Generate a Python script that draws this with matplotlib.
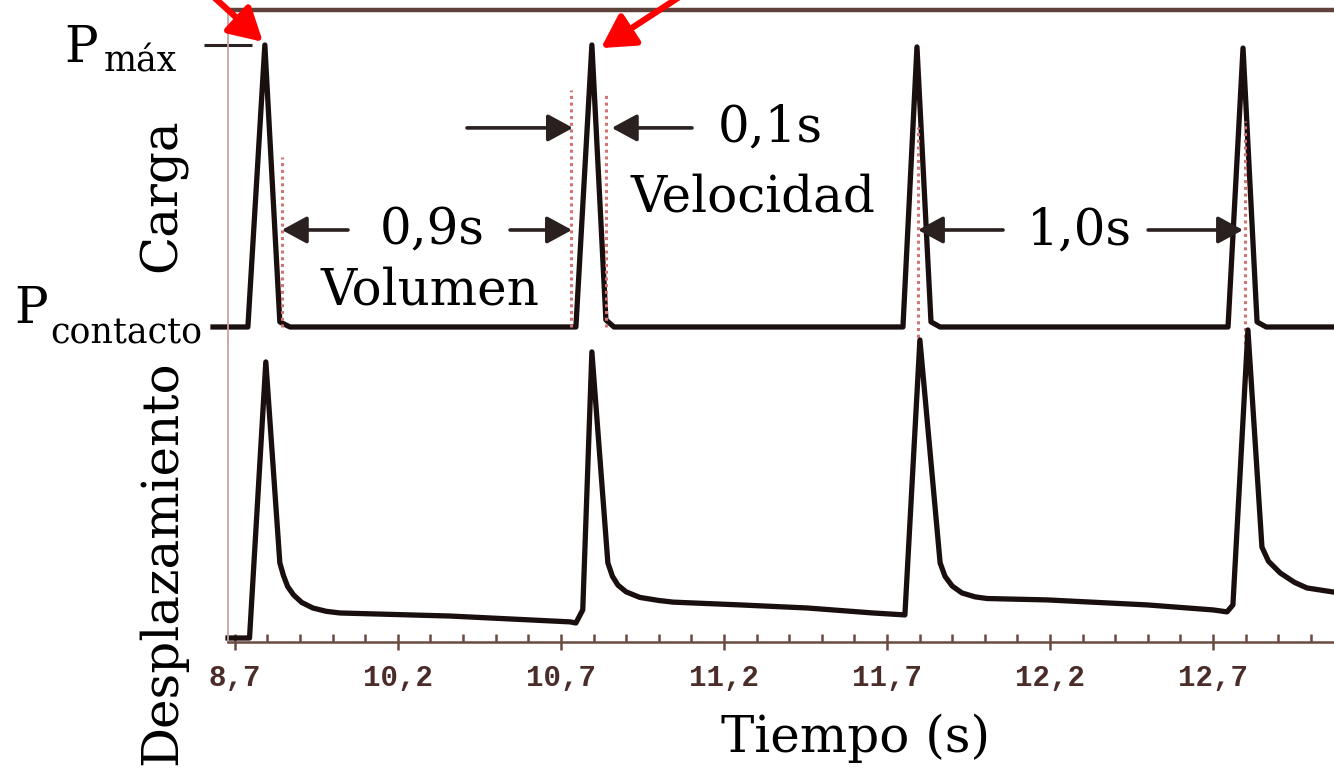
import matplotlib
matplotlib.use('Agg')
import matplotlib.pyplot as plt
from matplotlib.ticker import FixedLocator

carga_t = [9.633, 9.740, 9.792, 9.838, 9.869,
           10.746, 10.795, 10.838, 10.863,
           11.749, 11.792, 11.835, 11.863,
           12.746, 12.792, 12.835, 12.863, 13.071]
carga_v = [0, 0, 1.0, 0.018, 0,
           0, 1.0, 0.025, 0,
           0, 0.993, 0.018, 0,
           0, 0.989, 0.018, 0, 0]

desp_t = [9.679, 9.745, 9.795, 9.838, 9.849, 9.862, 9.880, 9.905, 9.939, 9.980, 10.022, 10.360,
          10.728, 10.746, 10.767, 10.795,
          10.844, 10.858, 10.875, 10.900, 10.942, 11.000, 11.044, 11.249, 11.455, 11.657, 11.755,
          11.801,
          11.863, 11.878, 11.900, 11.930, 11.970, 12.007, 12.191, 12.498, 12.700, 12.743, 12.761,
          12.807,
          12.850, 12.870, 12.906, 12.950, 12.988, 13.071]
desp_v = [0, 0, 0.993, 0.270, 0.225, 0.185, 0.155, 0.128, 0.108, 0.096, 0.090, 0.079,
          0.058, 0.054, 0.101, 1.029,
          0.270, 0.222, 0.190, 0.166, 0.146, 0.135, 0.129, 0.119, 0.108, 0.090, 0.083,
          1.072,
          0.270, 0.222, 0.187, 0.162, 0.148, 0.142, 0.137, 0.119, 0.101, 0.094, 0.119,
          1.108,
          0.327, 0.276, 0.234, 0.200, 0.180, 0.165]

# lineas punteadas rojas (tiempo, altura superior, altura inferior)
marca_t = [9.844, 10.731, 10.838, 11.795, 12.798]
marca_sup = [0.603, 0.84, 0.83, 0.71, 0.73]
marca_inf = [0, 0, 0, -0.06, -0.06]

ticks_x = [9.7, 10.2, 10.7, 11.2, 11.7, 12.2, 12.7]
ticks_lab = ['8,7', '10,2', '10,7', '11,2', '11,7', '12,2', '12,7']
ticks_menor = [9.8, 9.9, 10.0, 10.1, 10.3, 10.4, 10.5, 10.6, 10.8, 10.9, 11.0, 11.1,
               11.3, 11.4, 11.5, 11.6, 11.8, 11.9, 12.0, 12.1, 12.3, 12.4, 12.5, 12.6,
               12.8, 12.9, 13.0]

W, H = 1334, 776
SERIF = 'DejaVu Serif'
TRAZO = '#1a0f0f'
ROSA = '#c9a3a3'
MARRON = '#6b4a42'


def px(x, y):
    return x / W, 1 - y / H


fig = plt.figure(figsize=(W / 100, H / 100), dpi=100)
fig.patch.set_facecolor('white')

x0 = 228 / W
ax_top = fig.add_axes([x0, (H - 339) / H, 1 - x0, (339 - 10) / H])
ax_bot = fig.add_axes([x0, (H - 642) / H, 1 - x0, (642 - 339) / H])

for ax in (ax_top, ax_bot):
    ax.set_facecolor('none')
    ax.set_xlim(9.679, 13.071)
    ax.spines['right'].set_visible(False)
    ax.spines['left'].set_color(ROSA)
    ax.spines['left'].set_linewidth(1.3)

ax_top.set_ylim(-0.0426, 1.1241)
ax_bot.set_ylim(-0.0144, 1.0755)

# panel superior: carga
ax_top.spines['bottom'].set_visible(False)
ax_top.spines['top'].set_color('#5e413b')
ax_top.spines['top'].set_linewidth(3.2)
ax_top.set_xticks([])
ax_top.set_yticks([1.0])
ax_top.set_yticklabels([])
ax_top.tick_params(axis='y', direction='inout', length=34, width=2.2, color='#2a2020')
ax_top.plot(carga_t, carga_v, color=TRAZO, lw=3.8, clip_on=False, solid_joinstyle='round')

ax_top.vlines(marca_t, marca_inf, marca_sup, colors='#d07474', linestyles=(0, (1, 1.2)),
              lw=2.2, clip_on=False)

# panel inferior: desplazamiento
ax_bot.spines['top'].set_visible(False)
ax_bot.spines['bottom'].set_color(MARRON)
ax_bot.spines['bottom'].set_linewidth(1.8)
ax_bot.set_yticks([])
ax_bot.plot(desp_t, desp_v, color=TRAZO, lw=3.8, clip_on=False, solid_joinstyle='round')
ax_bot.set_xticks(ticks_x)
ax_bot.set_xticklabels(ticks_lab, family='Liberation Mono', fontweight='bold',
                       fontsize=21, color='#4a2c28')
ax_bot.xaxis.set_minor_locator(FixedLocator(ticks_menor))
ax_bot.tick_params(axis='x', which='major', direction='inout', length=12, width=1.8,
                   color=MARRON, pad=10)
ax_bot.tick_params(axis='x', which='minor', direction='in', length=6, width=1.8, color=MARRON)

# flechas rojas hacia los picos
rojo = dict(arrowstyle='-|>,head_length=0.8,head_width=0.45', color='#ff0000', lw=4.5,
            mutation_scale=25, shrinkA=0, shrinkB=0)
ax_top.annotate('', xy=(9.786, 1.011), xytext=(9.608, 1.199), arrowprops=rojo,
                annotation_clip=False)
ax_top.annotate('', xy=(10.823, 0.989), xytext=(11.096, 1.195), arrowprops=rojo,
                annotation_clip=False)

# flechas negras de los intervalos
negro = dict(arrowstyle='-|>,head_length=0.7,head_width=0.38', color='#2a2020', lw=2.6,
             mutation_scale=22, shrinkA=0, shrinkB=0)
flechas = [((10.047, 0.344), (9.844, 0.344)),
           ((10.544, 0.344), (10.734, 0.344)),
           ((10.412, 0.706), (10.737, 0.706)),
           ((11.102, 0.706), (10.856, 0.706)),
           ((12.056, 0.344), (11.795, 0.344)),
           ((12.501, 0.344), (12.792, 0.344))]
for ini, fin in flechas:
    ax_top.annotate('', xy=fin, xytext=ini, arrowprops=negro)

# textos
fs = 36
fig.text(*px(432, 231), '0,9s', family=SERIF, fontsize=fs, ha='center', va='center')
fig.text(*px(430, 305), 'Volumen', family=SERIF, fontsize=fs, ha='center', va='baseline')
fig.text(*px(770, 128), '0,1s', family=SERIF, fontsize=fs, ha='center', va='center')
fig.text(*px(753, 212), 'Velocidad', family=SERIF, fontsize=fs, ha='center', va='baseline')
fig.text(*px(1079, 231), '1,0s', family=SERIF, fontsize=fs, ha='center', va='center')
fig.text(*px(856, 752), 'Tiempo (s)', family=SERIF, fontsize=fs, ha='center', va='baseline')

fig.text(*px(163, 195), 'Carga', family=SERIF, fontsize=fs, rotation=90,
         ha='center', va='center')
fig.text(*px(163, 360), 'Desplazamiento', family=SERIF, fontsize=fs, rotation=90,
         ha='center', va='top')

fig.text(*px(64, 62), 'P', family=SERIF, fontsize=fs, ha='left', va='baseline')
fig.text(*px(104, 72), 'máx', family=SERIF, fontsize=25, ha='left', va='baseline')
fig.text(*px(14, 323), 'P', family=SERIF, fontsize=fs, ha='left', va='baseline')
fig.text(*px(50, 344), 'contacto', family=SERIF, fontsize=25, ha='left', va='baseline')

fig.savefig('out.png', dpi=100, facecolor='white')
